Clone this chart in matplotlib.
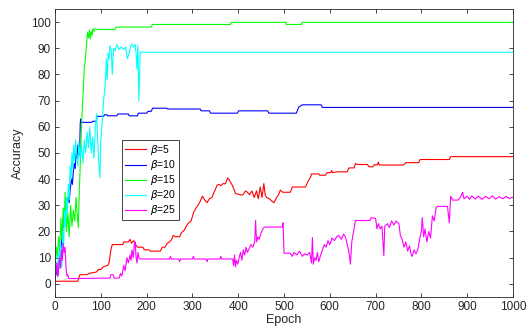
import matplotlib
matplotlib.use("Agg")
import matplotlib.pyplot as plt

plt.rcParams["font.family"] = ["Liberation Sans", "DejaVu Sans"]

# (epoch, accuracy) key points
red_x = [0, 50, 53, 55, 70, 75, 90, 95, 100, 105, 115, 118, 122, 125, 148, 150, 160, 164, 167, 172,
         176, 180, 192, 195, 205, 208, 230, 234, 240, 245, 250, 255, 258, 262, 272, 276, 282, 290,
         297, 303, 308, 312, 317, 322, 327, 332, 337, 343, 346, 350, 354, 358, 362, 367, 372, 377,
         381, 387, 391, 394, 405, 410, 416, 420, 425, 430, 435, 440, 444, 448, 452, 456, 459, 462,
         468, 474, 478, 484, 488, 492, 497, 514, 518, 547, 552, 558, 560, 576, 578, 591, 594, 602,
         604, 606, 617, 638, 642, 653, 656, 660, 682, 686, 694, 697, 704, 706, 708, 761, 766, 794,
         797, 861, 864, 1000]
red_y = [1, 1, 3, 3.5, 3.5, 4, 4.5, 5.5, 5.5, 6.5, 7, 8, 13, 15, 15, 16, 16, 17, 15.5, 16.5,
         15, 14, 14, 13, 13, 12.5, 12.5, 14, 14, 15.5, 16, 17, 18.5, 18, 18, 19.5, 20.5, 23,
         24, 27.5, 29, 30, 31.5, 33.5, 32, 31, 32.5, 33, 34.5, 36, 37.7, 38, 37.5, 38.3, 38.2, 40.5,
         39.5, 37.7, 36, 34.5, 34, 34, 35.5, 35, 34, 35.5, 33, 35.5, 32.5, 37, 33, 38.3, 34, 33,
         32.5, 31.5, 31, 33, 34, 35.8, 35, 35, 37, 37, 39, 40.8, 42, 42, 41.5, 41.5, 42.5, 42.5,
         43.3, 42.5, 42.8, 42.8, 44.3, 44.3, 46, 45.6, 45.6, 44.7, 44.7, 45.5, 45.5, 46.5, 45.4, 45.4, 46.3, 46.3,
         47.5, 47.5, 48.6, 48.6]

blue_x = [0, 3, 6, 9, 12, 15, 17, 19, 21, 23, 25, 28, 31, 33, 36, 38, 40, 42, 44, 46, 48, 50, 52,
          54, 55, 56, 57, 80, 82, 90, 92, 106, 108, 113, 115, 135, 137, 160, 162, 180, 182, 200,
          203, 210, 213, 244, 246, 317, 319, 337, 340, 398, 401, 464, 467, 527, 532, 540, 581, 584, 1000]
blue_y = [2, 5, 3, 8, 12, 17, 21, 27, 24, 30, 28, 33, 31, 36, 40, 38, 43, 46, 44, 50, 48, 53, 49,
          52, 61, 63, 61.7, 61.7, 62.1, 62.1, 64, 64, 64.6, 64.6, 64.2, 64.2, 64.9, 64.9, 64.2, 64.2, 65.2, 65.2,
          65.9, 65.9, 67.1, 67.1, 66.8, 66.8, 66.1, 66.1, 65.2, 65.2, 66.1, 66.1, 65.2, 65.2, 67.5, 68.4,
          68.4, 67.4, 67.4]

green_x = [0, 3, 5, 8, 10, 13, 15, 18, 20, 22, 25, 28, 31, 34, 37, 40, 43, 46, 49, 51, 53, 56, 59,
           62, 64, 66, 69, 71, 73, 75, 77, 79, 81, 83, 85, 88, 92, 131, 133, 210, 213, 383, 385,
           503, 505, 538, 540, 1000]
green_y = [8, 14, 10, 18, 12, 25, 17, 29, 22, 35, 20, 27, 18, 30, 22, 28, 24, 33, 25, 21.5, 35, 50,
           65, 75, 83, 85, 92, 96, 94, 97, 93.5, 96.5, 95, 97.5, 96.5, 97.5, 97.2, 97.2, 98.1, 98.1, 99.1,
           99.1, 99.9, 99.9, 99.1, 99.1, 99.9, 99.9]

cyan_x = [0, 3, 5, 7, 9, 11, 13, 15, 17, 19, 21, 23, 25, 27, 29, 31, 33, 35, 37, 39, 41, 43, 45,
          47, 50, 52, 55, 58, 61, 64, 67, 70, 73, 76, 79, 82, 85, 88, 91, 93, 95, 98, 100, 103, 106,
          109, 111, 112, 114, 116, 118, 120, 123, 125, 128, 131, 135, 140, 145, 150, 154, 158, 162,
          165, 168, 172, 175, 177, 179, 181, 183, 186, 1000]
cyan_y = [3, 8, 4, 12, 6, 16, 10, 6.3, 20, 15, 28, 22, 33, 27, 38, 32, 45, 40, 50, 44, 53, 47, 55,
          50, 45, 54, 48, 53, 46, 55, 50, 58, 52, 60, 50, 56, 48, 60, 65, 55, 48, 40.5, 55, 62, 70,
          75, 80, 86, 78, 88, 86, 91, 89, 80, 90, 89, 91.5, 89.5, 90.5, 89.5, 90.5, 86, 88,
          91, 91.5, 90.5, 91.5, 88, 82, 91, 70, 88.5, 88.5]

mag_x = [0, 2, 4, 6, 8, 10, 12, 14, 16, 18, 20, 22, 24, 26, 28, 30, 120, 122, 127, 129, 140, 143,
         146, 150, 153, 157, 160, 164, 166, 168, 171, 173, 175, 177, 179, 181, 183, 186, 250, 252,
         254, 270, 272, 274, 300, 302, 304, 330, 332, 334, 360, 362, 364, 388, 390, 392, 394, 396,
         399, 402, 405, 408, 411, 414, 417, 420, 424, 428, 432, 436, 438, 440, 443, 446, 450, 454,
         457, 496, 498, 500, 514, 518, 522, 528, 534, 540, 545, 551, 556, 560, 562, 564, 567, 570,
         573, 576, 580, 584, 588, 592, 596, 600, 605, 610, 615, 620, 625, 630, 634, 638, 642, 645,
         648, 652, 656, 688, 690, 700, 703, 706, 710, 714, 718, 720, 726, 730, 735, 740, 745, 751,
         754, 758, 762, 766, 770, 774, 778, 780, 784, 788, 792, 796, 800, 802, 805, 808, 812, 816,
         820, 824, 828, 832, 835, 857, 861, 864, 868, 880, 885, 890, 893, 900, 905, 910, 918, 925,
         932, 940, 948, 955, 962, 970, 978, 985, 992, 1000]
mag_y = [1, 4, 8, 3, 6, 10, 6, 13, 9, 15.5, 12, 14, 6, 3, 3.5, 2, 2.2, 3.5, 3.5, 2.2, 2.2, 4,
         3, 7, 5, 10, 8, 11, 9, 13, 10, 15, 16, 10, 8, 12, 10, 9.5, 9.5, 10.5,
         9.5, 9.5, 8.5, 9.5, 9.5, 10.5, 9.5, 9.5, 8.5, 9.5, 9.5, 10.5, 9.5, 9.5, 7, 11, 6.5, 9,
         7.5, 10, 12, 9, 13, 11, 14, 12, 13.5, 15, 14, 16, 24.2, 16, 18, 17, 19.5, 21,
         21.7, 21.7, 23.3, 11.7, 11.7, 10.5, 12, 11, 12.5, 10.5, 11.5, 11, 12, 8, 17.7, 7.5, 10, 9,
         12, 8.5, 11, 13, 15, 14, 16.5, 15, 17.5, 16.5, 18, 18.5, 17, 19, 18, 15, 12, 7.5,
         16, 20, 24.2, 24.2, 25.3, 25, 21, 23, 21, 22, 10.7, 22, 23, 21.5, 24, 22.5, 24, 23,
         18.5, 17, 14, 16, 12.5, 14.5, 11, 10.5, 13, 11.5, 13, 17, 20, 25.3, 18, 21, 16, 20,
         17.5, 26, 24, 29, 29.6, 29.6, 23.3, 33.5, 32, 32, 33, 35, 32.5, 33.5, 32.3, 33.6, 32.4, 33.5,
         32.3, 33.4, 32.5, 33.6, 32.4, 33.3, 32.5, 33.4, 32.6, 33.1]

labels = [r"$\beta$=5", r"$\beta$=10", r"$\beta$=15", r"$\beta$=20", r"$\beta$=25"]
colors = ["#ff0000", "#0000ff", "#00ff00", "#00ffff", "#ff00ff"]

fig = plt.figure(figsize=(5.27, 3.34), dpi=100)
ax = fig.add_axes([0.1044, 0.111, 0.869, 0.862])

series = [(red_x, red_y), (blue_x, blue_y), (green_x, green_y), (cyan_x, cyan_y), (mag_x, mag_y)]
for (xs, ys), lab, c in zip(series, labels, colors):
    ax.plot(xs, ys, color=c, lw=0.8, label=lab)

ax.set_xlim(0, 1000)
ax.set_ylim(-5, 105)
ax.set_xticks(range(0, 1001, 100))
ax.set_yticks(range(0, 101, 10))
ax.tick_params(direction="in", top=True, right=True, length=3, width=0.6,
               labelsize=8.5, colors="#262626", pad=3)
for s in ax.spines.values():
    s.set_color("#262626")
    s.set_linewidth(0.6)
ax.set_xlabel("Epoch", fontsize=9, color="#262626", labelpad=1)
ax.set_ylabel("Accuracy", fontsize=9, color="#262626", labelpad=5)

leg = ax.legend(loc="upper left", bbox_to_anchor=(0.146, 0.545), fontsize=7.5,
                frameon=True, fancybox=False, framealpha=1, edgecolor="#262626",
                handlelength=2.0, handletextpad=0.4, borderpad=0.3, labelspacing=0.1,
                borderaxespad=0)
leg.get_frame().set_linewidth(0.6)

fig.savefig("out.png", dpi=100)
